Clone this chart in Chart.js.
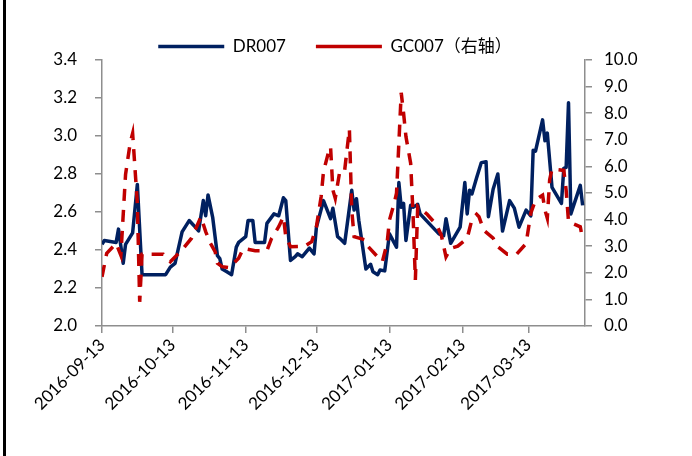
<!DOCTYPE html>
<html>
<head>
<meta charset="utf-8">
<script src="https://cdn.jsdelivr.net/npm/chart.js@4/dist/chart.umd.min.js"></script>
<style>
  html, body { margin: 0; padding: 0; background: #fff; }
  #wrap { position: relative; width: 692px; height: 456px; }
  #edge { position: absolute; left: 3px; top: 0; width: 3px; height: 456px; background: #000; }
</style>
</head>
<body>
<div id="wrap">
  <canvas id="rates" width="692" height="456"></canvas>
  <div id="edge"></div>
</div>
<script>
const startDate = '2016-09-13';
const endDate = '2017-04-06';
const xTickLabels = ['2016-09-13', '2016-10-13', '2016-11-13', '2016-12-13', '2017-01-13', '2017-02-13', '2017-03-13'];

const drDates = ['2016-09-13', '2016-09-14', '2016-09-19', '2016-09-20', '2016-09-22', '2016-09-23', '2016-09-26', '2016-09-28', '2016-09-30',
    '2016-10-10', '2016-10-12', '2016-10-14', '2016-10-17', '2016-10-20', '2016-10-23', '2016-10-24', '2016-10-26', '2016-10-27', '2016-10-28', '2016-10-30',
    '2016-11-01', '2016-11-02', '2016-11-03', '2016-11-05', '2016-11-07', '2016-11-09', '2016-11-10', '2016-11-13', '2016-11-14', '2016-11-16', '2016-11-17',
    '2016-11-21', '2016-11-22', '2016-11-25', '2016-11-27', '2016-11-29', '2016-11-30',
    '2016-12-02', '2016-12-04', '2016-12-05', '2016-12-07', '2016-12-10', '2016-12-12', '2016-12-13', '2016-12-16', '2016-12-19', '2016-12-20',
    '2016-12-22', '2016-12-23', '2016-12-25', '2016-12-28', '2016-12-29', '2016-12-30', '2016-12-31',
    '2017-01-03', '2017-01-05', '2017-01-06', '2017-01-08', '2017-01-09', '2017-01-11', '2017-01-13', '2017-01-16', '2017-01-17', '2017-01-18',
    '2017-01-19', '2017-01-20', '2017-01-22', '2017-01-23', '2017-01-25', '2017-01-26',
    '2017-02-03', '2017-02-05', '2017-02-06', '2017-02-08', '2017-02-12', '2017-02-14', '2017-02-15', '2017-02-16', '2017-02-17', '2017-02-19',
    '2017-02-21', '2017-02-23', '2017-02-24', '2017-02-26', '2017-02-28',
    '2017-03-02', '2017-03-05', '2017-03-07', '2017-03-09', '2017-03-12', '2017-03-14', '2017-03-15', '2017-03-16', '2017-03-19', '2017-03-20',
    '2017-03-21', '2017-03-23', '2017-03-27', '2017-03-28', '2017-03-29', '2017-03-30', '2017-03-31', '2017-04-04', '2017-04-05'];
const drValues = [2.43, 2.45, 2.44, 2.51, 2.33, 2.43, 2.49, 2.745, 2.27,
    2.27, 2.31, 2.33, 2.495, 2.555, 2.515, 2.50, 2.66, 2.58, 2.69, 2.57,
    2.37, 2.355, 2.30, 2.285, 2.27, 2.415, 2.44, 2.47, 2.555, 2.555, 2.44,
    2.44, 2.54, 2.59, 2.58, 2.675, 2.66,
    2.345, 2.365, 2.38, 2.365, 2.41, 2.38, 2.52, 2.66, 2.565, 2.62,
    2.47, 2.46, 2.435, 2.715, 2.61, 2.67, 2.555,
    2.30, 2.325, 2.285, 2.27, 2.295, 2.29, 2.485, 2.415, 2.755, 2.625,
    2.645, 2.45, 2.635, 2.625, 2.64, 2.59,
    2.485, 2.475, 2.565, 2.435, 2.52, 2.755, 2.59, 2.715, 2.695, 2.78,
    2.86, 2.865, 2.575, 2.72, 2.80,
    2.50, 2.66, 2.62, 2.52, 2.61, 2.58, 2.925, 2.92, 3.085, 2.975,
    3.015, 2.73, 2.645, 2.83, 2.835, 3.175, 2.59, 2.74, 2.635];

const gcDates = ['2016-09-13', '2016-09-15', '2016-09-19', '2016-09-21', '2016-09-23', '2016-09-25', '2016-09-26', '2016-09-28', '2016-09-29', '2016-09-30',
    '2016-10-09', '2016-10-12', '2016-10-17', '2016-10-21', '2016-10-25', '2016-10-27', '2016-10-29', '2016-10-31',
    '2016-11-01', '2016-11-03', '2016-11-06', '2016-11-10', '2016-11-12', '2016-11-17', '2016-11-22', '2016-11-24', '2016-11-27', '2016-11-29', '2016-11-30',
    '2016-12-02', '2016-12-08', '2016-12-11', '2016-12-13', '2016-12-15', '2016-12-16', '2016-12-18', '2016-12-19', '2016-12-20', '2016-12-21',
    '2016-12-23', '2016-12-25', '2016-12-27', '2016-12-28', '2016-12-29',
    '2017-01-03', '2017-01-04', '2017-01-08', '2017-01-10', '2017-01-12', '2017-01-13', '2017-01-15', '2017-01-16', '2017-01-18', '2017-01-19',
    '2017-01-20', '2017-01-22', '2017-01-23', '2017-01-24', '2017-01-25', '2017-01-29',
    '2017-02-02', '2017-02-04', '2017-02-06', '2017-02-08', '2017-02-11', '2017-02-15', '2017-02-17', '2017-02-19', '2017-02-20', '2017-02-22',
    '2017-02-26', '2017-02-28',
    '2017-03-04', '2017-03-08', '2017-03-12', '2017-03-14', '2017-03-16', '2017-03-19', '2017-03-20', '2017-03-21', '2017-03-22', '2017-03-23',
    '2017-03-28', '2017-03-29', '2017-03-30', '2017-04-04', '2017-04-05'];
const gcValues = [1.85, 2.73, 3.11, 2.66, 5.7, 6.9, 7.24, 4.61, 0.91, 2.7,
    2.7, 2.42, 2.86, 3.3, 4.1, 3.55, 3.11, 2.8,
    2.36, 2.23, 2.19, 2.55, 2.92, 2.83, 2.83, 3.3, 3.73, 4.11, 3.36,
    2.98, 3.0, 3.17, 3.73, 4.86, 5.8, 6.49, 6.74, 5.11, 4.8,
    5.86, 5.86, 7.4, 4.36, 3.36,
    3.23, 2.98, 2.6, 2.42, 3.11, 3.98, 4.61, 4.99, 8.77, 8.0,
    7.12, 6.12, 4.24, 1.73, 4.5, 4.2,
    3.8, 3.42, 2.6, 2.92, 3.0, 3.3, 4.0, 4.2, 4.11, 3.6,
    3.3, 2.98,
    2.7, 2.7, 3.1, 4.24, 4.74, 4.92, 4.36, 4.05, 5.5, 5.9,
    5.85, 5.11, 3.92, 3.73, 3.26];

function dayOf(s) {
    const p = s.split('-').map(Number);
    const q = startDate.split('-').map(Number);
    return (Date.UTC(p[0], p[1] - 1, p[2]) - Date.UTC(q[0], q[1] - 1, q[2])) / 86400000;
}

function toPoints(dates, values) {
    return dates.map((d, i) => ({ x: dayOf(d), y: values[i] }));
}

const tickDays = xTickLabels.map(dayOf);
const axisGrey = '#8e8e8e';

Chart.defaults.font.family = "Lato, 'Noto Sans CJK SC', sans-serif";
Chart.defaults.font.size = 17;
Chart.defaults.color = '#000';

// fixed legend band height so the plot starts where the reference does
const legendBand = {
    id: 'legendBand',
    afterInit(chart) {
        const lg = chart.legend;
        const proto = Object.getPrototypeOf(lg);
        lg.fit = function () {
            proto.fit.call(this);
            this.height = 52;
        };
    }
};

function renderChart() {
    const ctx = document.getElementById('rates').getContext('2d');
    new Chart(ctx, {
        type: 'line',
        data: {
            datasets: [{
                label: 'DR007',
                data: toPoints(drDates, drValues),
                yAxisID: 'y',
                borderColor: '#002060',
                backgroundColor: '#002060',
                borderWidth: 3.5,
                borderJoinStyle: 'round',
                pointRadius: 0,
                pointStyle: 'line',
                tension: 0,
                order: 1
            }, {
                label: 'GC007（右轴）',
                data: toPoints(gcDates, gcValues),
                yAxisID: 'y1',
                borderColor: '#c00000',
                backgroundColor: '#c00000',
                borderWidth: 3.5,
                borderDash: [12, 9],
                borderCapStyle: 'butt',
                pointRadius: 0,
                pointStyle: 'line',
                tension: 0,
                order: 0
            }]
        },
        options: {
            responsive: false,
            animation: false,
            layout: { padding: { top: 8, right: 22, bottom: 0, left: 0 } },
            plugins: {
                tooltip: { enabled: false },
                legend: {
                    position: 'top',
                    labels: {
                        usePointStyle: true,
                        pointStyleWidth: 66,
                        boxHeight: 17,
                        padding: 30,
                        font: { size: 17 },
                        sort: (a, b) => a.datasetIndex - b.datasetIndex
                    }
                }
            },
            scales: {
                x: {
                    type: 'linear',
                    min: 0,
                    max: dayOf(endDate),
                    afterBuildTicks: (scale) => {
                        scale.ticks = tickDays.map(v => ({ value: v }));
                    },
                    afterFit: (scale) => { scale.height = 130; },
                    ticks: {
                        autoSkip: false,
                        minRotation: 45,
                        maxRotation: 45,
                        padding: 2,
                        callback: (v) => xTickLabels[tickDays.indexOf(v)]
                    },
                    grid: { drawOnChartArea: false, tickLength: 7, color: axisGrey, lineWidth: 1.5 },
                    border: { color: axisGrey, width: 1.5 }
                },
                y: {
                    position: 'left',
                    min: 2.0,
                    max: 3.4,
                    afterFit: (scale) => { scale.width = 102; },
                    ticks: { stepSize: 0.2, padding: 18, callback: (v) => v.toFixed(1) },
                    grid: { drawOnChartArea: false, tickLength: 7, color: axisGrey, lineWidth: 1.5 },
                    border: { color: axisGrey, width: 1.5 }
                },
                y1: {
                    position: 'right',
                    min: 0,
                    max: 10,
                    afterFit: (scale) => { scale.width = 85; },
                    ticks: { stepSize: 1, padding: 12, callback: (v) => v.toFixed(1) },
                    grid: { drawOnChartArea: false, tickLength: 7, color: axisGrey, lineWidth: 1.5 },
                    border: { color: axisGrey, width: 1.5 }
                }
            }
        },
        plugins: [legendBand]
    });
}

window.addEventListener('load', function () {
    renderChart();
});
</script>
</body>
</html>
